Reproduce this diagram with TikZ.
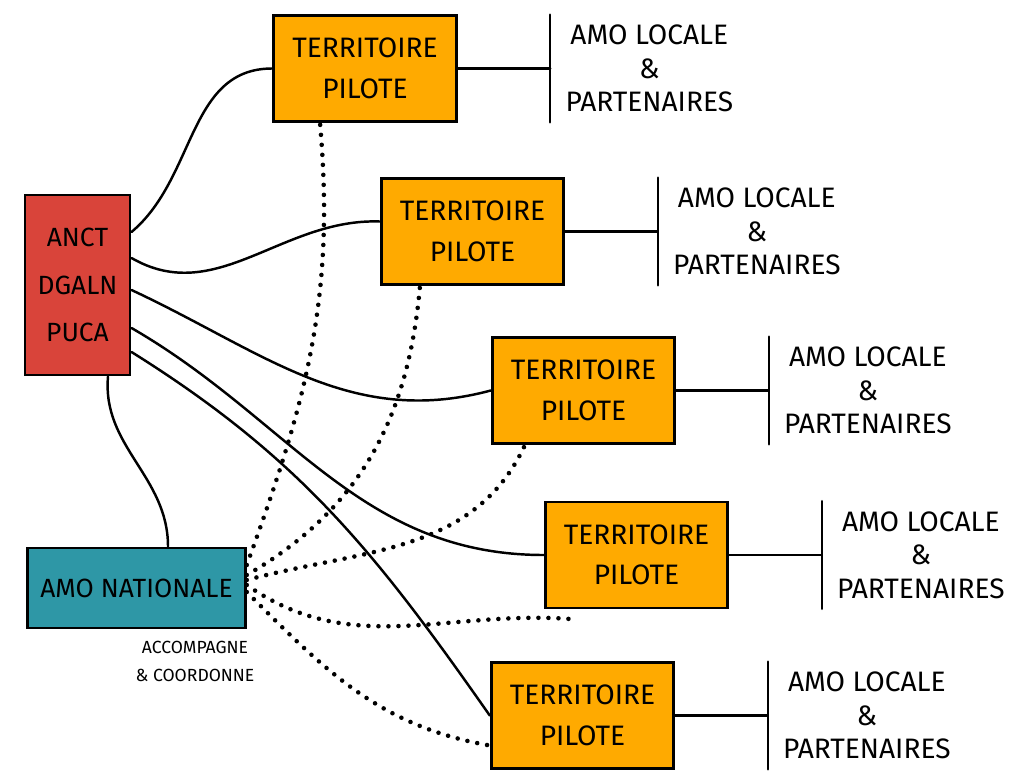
\documentclass[tikz,border=0pt]{standalone}
\usepackage{fontspec}
\setmainfont{Fira Sans}
\usetikzlibrary{positioning}
\definecolor{anctred}{HTML}{D9443A}
\definecolor{amoteal}{HTML}{2E97A6}
\definecolor{pilotorange}{HTML}{FFAA00}

\begin{document}
\begin{tikzpicture}[
    box/.style={rectangle, draw=black, line width=1.7pt, align=center},
    anctbox/.style={box, fill=anctred, minimum width=2.1cm, minimum height=3.6cm, font=\fontsize{15}{27}\selectfont},
    amobox/.style={box, fill=amoteal, minimum width=4.35cm, minimum height=1.6cm, font=\fontsize{15}{18}\selectfont},
    pilote/.style={box, fill=pilotorange, minimum width=3.65cm, minimum height=2.12cm, font=\fontsize{16}{23}\selectfont},
    locale/.style={rectangle, align=center, inner xsep=0.3cm, minimum height=2.14cm, font=\fontsize{16}{19}\selectfont},
    link/.style={line width=1.4pt, line cap=round},
    suivi/.style={line width=2.6pt, line cap=round, dash pattern=on 0pt off 5.7pt}
]
    \useasboundingbox (0,0) rectangle (20.18,-15.42);

    \node[anctbox] (anct) at (1.55,-5.7) {ANCT\\DGALN\\PUCA};
    \node[amobox] (amonat) at (2.73,-11.76) {AMO NATIONALE};
    \node[font=\fontsize{10}{16}\selectfont, align=center] (accomp) at (3.9,-13.22) {ACCOMPAGNE\\\& COORDONNE};

    \node[pilote] (terr1) at (7.3,-1.37) {TERRITOIRE\\PILOTE};
    \node[pilote] (terr2) at (9.45,-4.63) {TERRITOIRE\\PILOTE};
    \node[pilote] (terr3) at (11.67,-7.81) {TERRITOIRE\\PILOTE};
    \node[pilote] (terr4) at (12.73,-11.1) {TERRITOIRE\\PILOTE};
    \node[pilote] (terr5) at (11.65,-14.31) {TERRITOIRE\\PILOTE};

    \foreach \i in {1,...,5} {
        \node[locale, right=1.85cm of terr\i] (loc\i) {AMO LOCALE\\\&\\PARTENAIRES};
        \draw[link] (terr\i) -- (loc\i);
        \draw[link] (loc\i.north west) -- (loc\i.south west);
    }

    \draw[link] ([yshift=1.06cm]anct.east) to[out=40,in=180] (terr1.west);
    \draw[link] ([yshift=0.54cm]anct.east) to[out=-30,in=178] ([yshift=0.2cm]terr2.west);
    \draw[link] ([yshift=-0.1cm]anct.east) to[out=-25,in=195] (terr3.west);
    \draw[link] ([yshift=-0.86cm]anct.east) to[out=-30,in=180] (terr4.west);
    \draw[link] ([yshift=-1.34cm]anct.east) to[out=-32,in=125] (terr5.west);
    \draw[link] ([xshift=0.61cm]anct.south) to[out=-95,in=90] ([xshift=0.63cm]amonat.north);

    \draw[suivi] ([yshift=0.46cm]amonat.east) to[out=70,in=-85] ([xshift=-0.9cm]terr1.south);
    \draw[suivi] ([yshift=0.26cm]amonat.east) to[out=30,in=-95] ([xshift=-1.05cm]terr2.south);
    \draw[suivi] ([yshift=0.16cm]amonat.east) to[out=15,in=-115] ([xshift=-1.17cm]terr3.south);
    \draw[suivi] ([yshift=0.06cm]amonat.east) to[out=-35,in=175] ([xshift=0.66cm,yshift=-0.2cm]terr4.south west);
    \draw[suivi] ([yshift=-0.08cm]amonat.east) to[out=-45,in=170] ([yshift=-0.6cm]terr5.west);
\end{tikzpicture}
\end{document}
